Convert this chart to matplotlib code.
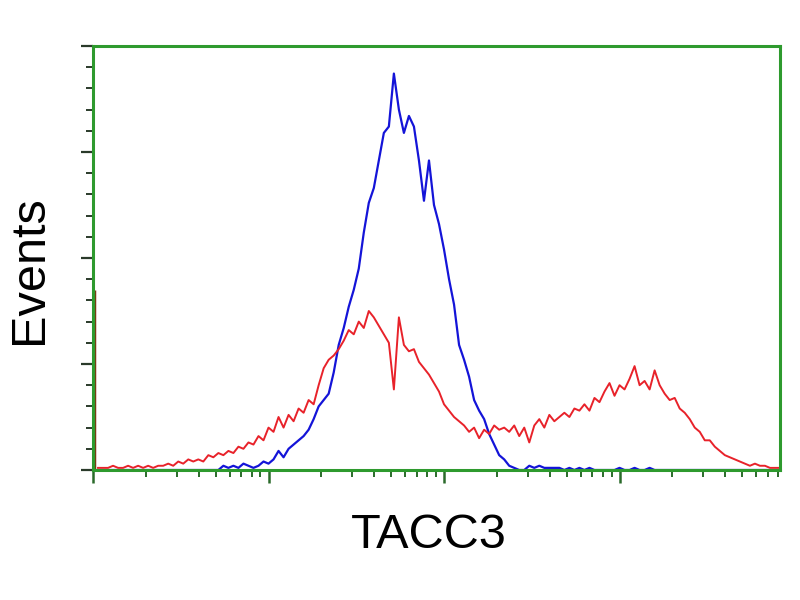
import numpy as np
import matplotlib
matplotlib.use("Agg")
import matplotlib.pyplot as plt
from matplotlib.ticker import LogLocator, MultipleLocator, NullFormatter

# Histogram counts (Events) on a log fluorescence axis, bins evenly spaced in log
red_counts = [1, 1, 1, 2, 1, 1, 2, 1, 2, 1, 2, 1, 2, 2, 3, 2, 4, 3, 5, 4,
              5, 4, 7, 6, 8, 7, 9, 8, 11, 10, 13, 12, 16, 14, 20, 18, 25, 20, 26, 23,
              29, 27, 33, 31, 40, 48, 52, 54, 57, 61, 66, 64, 70, 67, 75, 72, 68, 64, 60, 38,
              72, 59, 56, 57, 51, 48, 45, 41, 37, 31, 28, 25, 23, 21, 18, 20, 15, 19, 17, 21,
              19, 20, 18, 21, 16, 20, 13, 21, 24, 20, 26, 23, 25, 27, 25, 29, 28, 31, 28, 34,
              32, 37, 41, 35, 40, 38, 43, 49, 40, 42, 38, 47, 40, 36, 33, 34, 29, 27, 24, 20,
              18, 14, 14, 11, 9, 7, 6, 5, 4, 3, 2, 3, 2, 2, 1, 1, 1]

blue_counts = [0] * 25 + [
              2, 1, 2, 1, 3, 2, 1, 2, 4, 3, 5, 9, 6, 10, 12,
              14, 16, 19, 24, 30, 33, 36, 46, 59, 67, 77, 85, 95, 112, 126,
              133, 146, 159, 162, 187, 170, 159, 167, 162, 146, 127, 146, 125, 116, 104,
              90, 78, 59, 52, 44, 33, 28, 24, 17, 12, 7, 5, 2, 1, 0,
              0, 2, 1, 2, 1, 1, 1, 1, 0, 1, 0, 1, 0, 1, 0,
              0, 0, 0, 0, 1, 0, 0, 1, 0, 0, 1, 0, 0, 0, 0,
              0, 0, 0, 0, 0, 0, 0, 0, 0, 0, 0, 0, 0, 0, 0,
              0, 0, 0, 0, 0, 0, 0]

first_bin_count = 85  # pile-up in the lowest channel

x_label = "TACC3"
y_label = "Events"

n_bins = len(red_counts)
log_lo, log_hi = 5 / 175, 685 / 175
bins = np.logspace(log_lo, log_hi, n_bins)

fig = plt.figure(figsize=(8, 6), dpi=100)
ax = fig.add_axes([93 / 800, 1 - 470 / 600, (780 - 93) / 800, (470 - 46) / 600])

ax.plot(bins, blue_counts[:n_bins], color="#1414d8", lw=1.6)
ax.plot(bins, red_counts, color="#e8222a", lw=1.4)
ax.vlines(1.015, 0, first_bin_count, color="#7a3a12", lw=2.5)

ax.set_xscale("log")
ax.set_xlim(1, 10 ** (685 / 175))
ax.set_ylim(0, 200)

ax.xaxis.set_major_locator(LogLocator(base=10, numticks=10))
ax.xaxis.set_minor_locator(LogLocator(base=10, subs=np.arange(2, 10), numticks=100))
ax.xaxis.set_major_formatter(NullFormatter())
ax.xaxis.set_minor_formatter(NullFormatter())
ax.yaxis.set_major_locator(MultipleLocator(50))
ax.yaxis.set_minor_locator(MultipleLocator(10))
ax.yaxis.set_major_formatter(NullFormatter())

green = "#2e9a2e"
for s in ax.spines.values():
    s.set_color(green)
    s.set_linewidth(2.2)

ax.tick_params(axis="x", which="major", direction="out", length=9, width=1.8, color="#2a6a2a")
ax.tick_params(axis="x", which="minor", direction="out", length=5, width=1.4, color="#2a6a2a")
ax.tick_params(axis="y", which="major", direction="out", length=9, width=1.6, color="#2a3a2a")
ax.tick_params(axis="y", which="minor", direction="out", length=5, width=1.4, color="#2a3a2a")

fig.text(429 / 800, 1 - 535 / 600, x_label, fontsize=35, family="Liberation Sans",
         ha="center", va="center")
fig.text(30 / 800, 1 - 270 / 600, y_label, fontsize=35, family="Liberation Sans",
         ha="center", va="center", rotation=90)

fig.savefig("out.png", dpi=100)
